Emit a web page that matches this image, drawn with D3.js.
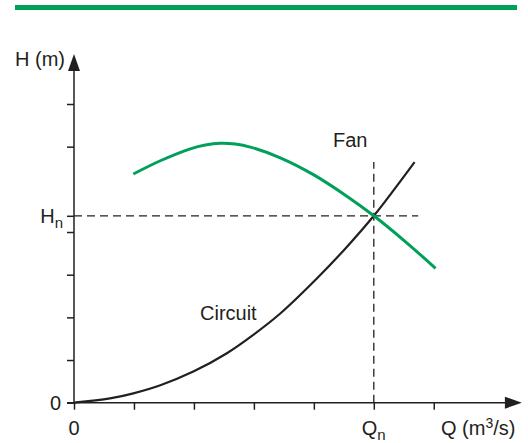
<!DOCTYPE html>
<html lang="en">
<head>
<meta charset="utf-8">
<title>Fan and circuit curves</title>
<script src="https://cdn.jsdelivr.net/npm/d3@7/dist/d3.min.js"></script>
<style>
  body { margin: 0; background: #fff; }
  text { font-family: "Liberation Sans", Arial, sans-serif; fill: #231f20; }
</style>
</head>
<body>
<svg id="chart" width="528" height="443"></svg>
<script type="text/javascript">

// tick positions (in grid units)
var xTicks = [0, 1, 2, 3, 4, 5, 6];
var yTicks = [0, 1, 2, 3, 4, 6, 7];

// operating point
var Qn = 5;
var Hn = 4.38;

// fan characteristic (Q, H)
var fanQ = [0.99, 1.44, 1.94, 2.19, 2.44, 2.69, 2.94, 3.44, 4.0, 4.55, 5.0, 5.53, 6.03];
var fanH = [5.36, 5.67, 5.95, 6.04, 6.08, 6.06, 5.99, 5.74, 5.34, 4.84, 4.38, 3.77, 3.15];

// circuit characteristic (Q, H)
var circQ = [0, 0.6, 0.99, 1.44, 1.99, 2.55, 2.99, 3.44, 4.05, 4.55, 5.0, 5.68];
var circH = [0, 0.1, 0.22, 0.41, 0.73, 1.16, 1.59, 2.09, 2.91, 3.65, 4.38, 5.64];

// axis ends (arrow tips)
var xMax = 7.47;
var yMax = 8.17;

var green = "#00a05a";
var ink = "#231f20";

var svg = d3.select("#chart");

// green rule at the top
svg.append("rect")
  .attr("x", 15).attr("y", 5)
  .attr("width", 502).attr("height", 5)
  .attr("fill", green);

var x = d3.scaleLinear().domain([0, 5]).range([74, 373.8]);
var y = d3.scaleLinear().domain([0, 7]).range([402.7, 104]);

//////////////////////////////////
// axes
var yAxis = d3.axisLeft(y).tickValues(yTicks.concat([Hn]))
  .tickSize(7).tickSizeOuter(0).tickFormat("");
var gy = svg.append("g").attr("transform", "translate(" + x(0) + ",0)").call(yAxis);
gy.select(".domain").remove();

var xAxis = d3.axisBottom(x).tickValues(xTicks)
  .tickSize(7).tickSizeOuter(0).tickFormat("");
var gx = svg.append("g").attr("transform", "translate(0," + y(0) + ")").call(xAxis);
gx.select(".domain").remove();

svg.selectAll(".tick line").attr("stroke", ink).attr("stroke-width", 1.5);

// axis lines with arrow heads
svg.append("line")
  .attr("x1", x(0)).attr("y1", y(0))
  .attr("x2", x(0)).attr("y2", y(yMax) + 10)
  .attr("stroke", ink).attr("stroke-width", 1.5);
svg.append("path")
  .attr("d", "M" + x(0) + "," + y(yMax) + "L" + (x(0) + 6) + "," + (y(yMax) + 17) +
             "L" + (x(0) - 6) + "," + (y(yMax) + 17) + "Z")
  .attr("fill", ink);

svg.append("line")
  .attr("x1", x(0) - 7).attr("y1", y(0))
  .attr("x2", x(xMax) - 10).attr("y2", y(0))
  .attr("stroke", ink).attr("stroke-width", 1.5);
svg.append("path")
  .attr("d", "M" + x(xMax) + "," + y(0) + "L" + (x(xMax) - 17) + "," + (y(0) - 6) +
             "L" + (x(xMax) - 17) + "," + (y(0) + 6) + "Z")
  .attr("fill", ink);

//////////////////////////////////
// dashed guide lines
svg.append("line")
  .attr("x1", x(0)).attr("y1", y(Hn))
  .attr("x2", x(5.74)).attr("y2", y(Hn))
  .attr("stroke", ink).attr("stroke-width", 1.3)
  .attr("stroke-dasharray", "8,5");
svg.append("line")
  .attr("x1", x(Qn)).attr("y1", y(0))
  .attr("x2", x(Qn)).attr("y2", y(5.64))
  .attr("stroke", ink).attr("stroke-width", 1.3)
  .attr("stroke-dasharray", "8,5");

//////////////////////////////////
// curves
var line = d3.line()
  .x(function(d) { return x(d[0]); })
  .y(function(d) { return y(d[1]); })
  .curve(d3.curveCatmullRom.alpha(0.5));

var circuit = d3.zip(circQ, circH);
var fan = d3.zip(fanQ, fanH);

svg.append("path").datum(circuit)
  .attr("d", line)
  .attr("fill", "none").attr("stroke", ink).attr("stroke-width", 2.2);

svg.append("path").datum(fan)
  .attr("d", line)
  .attr("fill", "none").attr("stroke", green).attr("stroke-width", 3);

//////////////////////////////////
// labels
var fs = 20;

svg.append("text").attr("x", 65).attr("y", 66)
  .attr("text-anchor", "end").attr("font-size", fs).text("H (m)");

svg.append("text").attr("x", 61).attr("y", y(0) + 7)
  .attr("text-anchor", "end").attr("font-size", fs).text("0");

var hn = svg.append("text").attr("x", 63).attr("y", y(Hn) + 7)
  .attr("text-anchor", "end").attr("font-size", fs);
hn.append("tspan").text("H");
hn.append("tspan").attr("font-size", 15).attr("dy", 5).text("n");

svg.append("text").attr("x", x(0)).attr("y", 435)
  .attr("text-anchor", "middle").attr("font-size", fs).text("0");

var qn = svg.append("text").attr("x", x(Qn) - 12).attr("y", 435)
  .attr("font-size", fs);
qn.append("tspan").text("Q");
qn.append("tspan").attr("font-size", 15).attr("dy", 5).text("n");

var qu = svg.append("text").attr("x", 441).attr("y", 435).attr("font-size", fs);
qu.append("tspan").text("Q (m");
qu.append("tspan").attr("font-size", 14).attr("dy", -7).text("3");
qu.append("tspan").attr("dy", 7).text("/s)");

svg.append("text").attr("x", 333).attr("y", 147).attr("font-size", fs).text("Fan");
svg.append("text").attr("x", 200).attr("y", 320).attr("font-size", fs).text("Circuit");

</script>
</body>
</html>
